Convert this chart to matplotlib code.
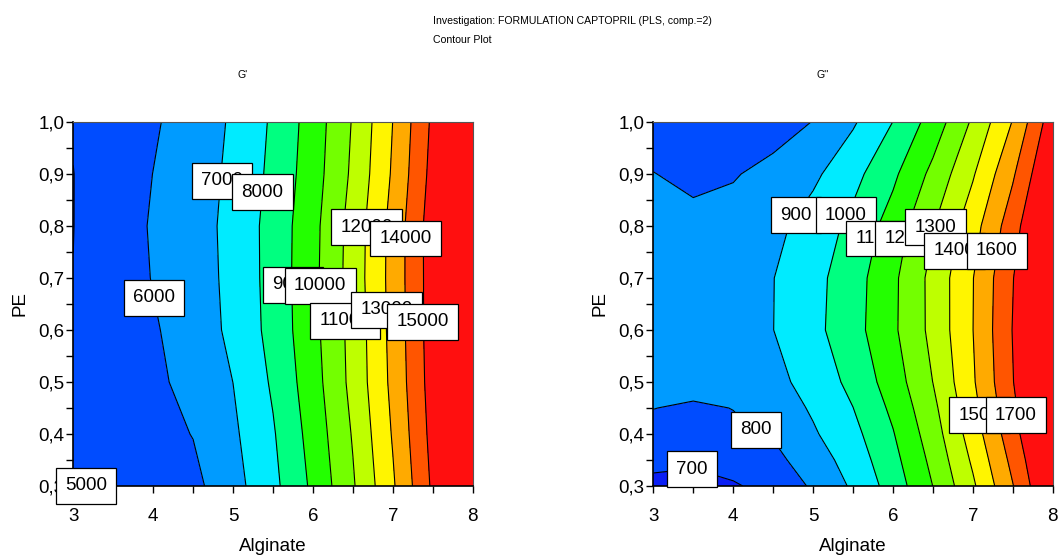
import numpy as np
import matplotlib
matplotlib.use("Agg")
import matplotlib.pyplot as plt
from matplotlib.ticker import MultipleLocator, FixedLocator, FixedFormatter

# model predictions over the design region (Alginate x PE)
alginate = [3.0, 3.5, 4.0, 4.5, 5.0, 5.5, 6.0, 6.5, 7.0, 7.5, 8.0]

pe_g1 = [0.3, 0.4, 0.5, 0.6, 0.7, 0.8, 0.9, 1.0]
g_storage = [
    [5005, 5260, 5500, 5740, 6648, 7738, 9194, 10893, 12875, 15170, 17500],
    [5010, 5310, 5650, 6030, 6830, 7907, 9387, 11080, 13083, 15330, 17700],
    [5020, 5370, 5800, 6300, 7005, 8135, 9580, 11296, 13250, 15450, 17800],
    [5030, 5440, 5910, 6410, 7240, 8316, 9706, 11333, 13320, 15500, 17900],
    [5010, 5480, 6040, 6500, 7280, 8359, 9735, 11429, 13348, 15500, 17900],
    [4990, 5500, 6090, 6530, 7314, 8357, 9697, 11393, 13333, 15520, 17900],
    [4990, 5450, 6010, 6500, 7216, 8238, 9545, 11185, 13125, 15333, 17700],
    [5050, 5420, 5880, 6470, 7120, 8146, 9455, 11074, 13010, 15190, 17500],
]

pe_g2 = [0.3, 0.35, 0.4, 0.45, 0.5, 0.6, 0.7, 0.8, 0.9, 1.0]
g_loss = [
    [685, 680, 688, 738, 812, 915, 1044, 1201, 1384, 1596, 1833],
    [715, 710, 748, 773, 850, 943, 1069, 1226, 1416, 1628, 1856],
    [782, 775, 790, 808, 888, 971, 1094, 1252, 1448, 1661, 1880],
    [801, 792, 801, 840, 913, 999, 1121, 1276, 1468, 1678, 1895],
    [818, 822, 825, 870, 938, 1027, 1149, 1301, 1488, 1696, 1910],
    [838, 835, 850, 899, 972, 1063, 1182, 1328, 1499, 1704, 1910],
    [838, 835, 850, 898, 968, 1057, 1179, 1330, 1497, 1696, 1906],
    [825, 812, 815, 873, 942, 1026, 1143, 1294, 1459, 1657, 1880],
    [801, 790, 797, 812, 880, 969, 1080, 1226, 1390, 1587, 1824],
    [778, 772, 775, 782, 801, 888, 1001, 1142, 1315, 1505, 1760],
]

levels_g1 = [5000, 6000, 7000, 8000, 9000, 10000, 11000, 12000, 13000, 14000, 15000]
levels_g2 = [700, 800, 900, 1000, 1100, 1200, 1300, 1400, 1500, 1600, 1700]

# where the level labels sit (Alginate, PE)
label_pos_g1 = [(3.16, 0.30), (4.01, 0.662), (4.86, 0.887), (5.37, 0.865), (5.75, 0.687),
                (6.09, 0.685), (6.40, 0.618), (6.67, 0.798), (6.92, 0.639), (7.16, 0.776),
                (7.37, 0.616)]
label_pos_g2 = [(3.48, 0.332), (4.29, 0.408), (4.79, 0.821), (5.41, 0.821), (5.78, 0.776),
                (6.16, 0.776), (6.53, 0.798), (6.77, 0.752), (7.08, 0.436), (7.30, 0.752),
                (7.54, 0.436)]

band_colors = ['#0a1ef5', '#004cff', '#009bff', '#00ebff', '#00ff80', '#23ff00',
               '#73ff00', '#beff00', '#fff500', '#ffaa00', '#ff5500', '#ff0f0f']

x_ticks = [3, 4, 5, 6, 7, 8]
x_tick_labels = ['3', '4', '5', '6', '7', '8']
y_ticks = [0.3, 0.4, 0.5, 0.6, 0.7, 0.8, 0.9, 1.0]
y_tick_labels = ['0,3', '0,4', '0,5', '0,6', '0,7', '0,8', '0,9', '1,0']

plt.rcParams['font.family'] = ['Liberation Sans', 'DejaVu Sans']

fig = plt.figure(figsize=(10.59, 5.59), dpi=100)
ax1 = fig.add_axes([0.0692, 0.1306, 0.3772, 0.6512])
ax2 = fig.add_axes([0.6169, 0.1306, 0.3772, 0.6512])


def draw_panel(ax, pe, z, levels, label_pos):
    z = np.array(z, dtype=float)
    bounds = [z.min() - 1] + levels + [z.max() + 1]
    ax.contourf(alginate, pe, z, levels=bounds, colors=band_colors)
    ax.contour(alginate, pe, z, levels=levels, colors='black', linewidths=0.8)
    for lev, (lx, ly) in zip(levels, label_pos):
        ax.text(lx, ly, str(lev), fontsize=13.5, ha='center', va='center',
                zorder=10, clip_on=False,
                bbox=dict(boxstyle='square,pad=0.5', fc='white', ec='black', lw=0.9))
    ax.set_xlim(3, 8)
    ax.set_ylim(0.3, 1.0)
    ax.xaxis.set_major_locator(FixedLocator(x_ticks))
    ax.xaxis.set_major_formatter(FixedFormatter(x_tick_labels))
    ax.yaxis.set_major_locator(FixedLocator(y_ticks))
    ax.yaxis.set_major_formatter(FixedFormatter(y_tick_labels))
    ax.xaxis.set_minor_locator(MultipleLocator(0.5))
    ax.yaxis.set_minor_locator(MultipleLocator(0.05))
    ax.tick_params(which='both', direction='out', length=5, width=1, color='black')
    ax.tick_params(axis='x', which='major', labelsize=13.5, pad=11)
    ax.tick_params(axis='y', which='major', labelsize=13.5, pad=1.5)
    for side in ['left', 'bottom']:
        ax.spines[side].set_linewidth(1.2)
    for side in ['top', 'right']:
        ax.spines[side].set_linewidth(0.8)
        ax.spines[side].set_color('#555555')
    ax.set_xlabel('Alginate', fontsize=13.5, labelpad=9)
    ax.set_ylabel('PE', fontsize=13.5, labelpad=7)


draw_panel(ax1, pe_g1, g_storage, levels_g1, label_pos_g1)
draw_panel(ax2, pe_g2, g_loss, levels_g2, label_pos_g2)

fig.text(0.409, 0.9624, 'Investigation: FORMULATION CAPTOPRIL (PLS, comp.=2)',
         fontsize=7.6, ha='left', va='center')
fig.text(0.409, 0.928, 'Contour Plot', fontsize=7.6, ha='left', va='center')
fig.text(0.2295, 0.866, "G'", fontsize=7.6, ha='center', va='center')
fig.text(0.7765, 0.866, "G''", fontsize=7.6, ha='center', va='center')

fig.savefig('out.png', dpi=100)
